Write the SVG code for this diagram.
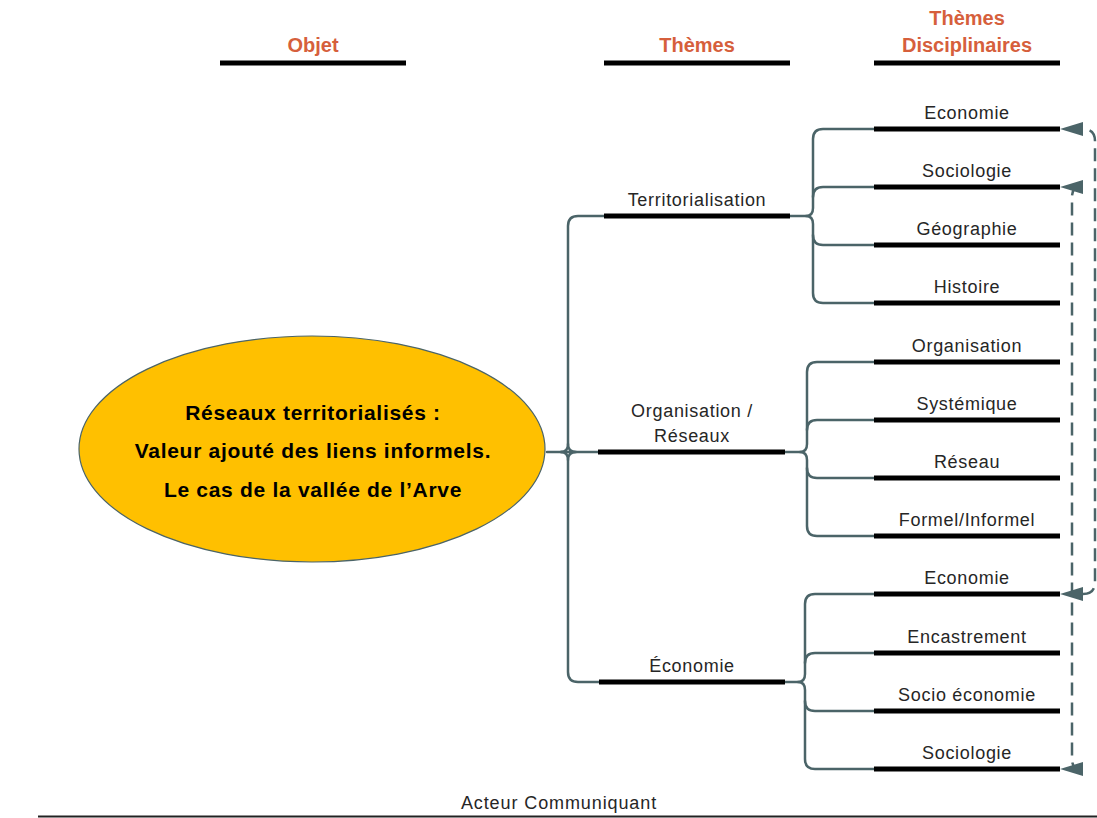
<svg xmlns="http://www.w3.org/2000/svg" width="1097" height="818" viewBox="0 0 1097 818">
<style>
.hdr{font-family:"Liberation Sans",Arial,sans-serif;font-weight:bold;font-size:20px;fill:#D65F3C;text-anchor:middle}
.lbl{font-family:"Liberation Sans",Arial,sans-serif;font-size:18px;letter-spacing:0.7px;fill:#262626;text-anchor:middle}
.ell{font-family:"Liberation Sans",Arial,sans-serif;font-weight:bold;font-size:21px;letter-spacing:0.7px;fill:#000;text-anchor:middle}
.bar{stroke:#000;stroke-width:5;fill:none}
.con{stroke:#4B6468;stroke-width:2.5;fill:none;stroke-linecap:round}
.dash{stroke:#4B6468;stroke-width:2.5;fill:none;stroke-dasharray:13 7}
.ah{fill:#4B6468}
</style>
<defs>
<path id="arrowhead" d="M0,0 L23,-7 L23,7 z"/>
</defs>
<rect width="1097" height="818" fill="#fff"/>

<g id="headers">
<text class="hdr" x="313" y="52">Objet</text>
<line class="bar" x1="220" y1="63" x2="406" y2="63"/>
<text class="hdr" x="697" y="52">Thèmes</text>
<line class="bar" x1="604" y1="63" x2="790" y2="63"/>
<text class="hdr" x="967" y="25">Thèmes</text>
<text class="hdr" x="967" y="52">Disciplinaires</text>
<line class="bar" x1="874" y1="63" x2="1060" y2="63"/>
</g>

<g id="connectors">
<!-- main trunk -->
<path class="con" d="M547,452 L598,452"/>
<path class="con" d="M561,452 Q568,452 568,444 L568,226 Q568,216 578,216 L604,216"/>
<path class="con" d="M561,452 Q568,452 568,460 L568,672 Q568,682 578,682 L599,682"/>
<path class="con" d="M568,444 Q568,452 576,452 M568,460 Q568,452 576,452"/>
<!-- Territorialisation group -->
<path class="con" d="M790,216 L806,216 Q813,216 813,208 L813,139 Q813,129 823,129 L874,129"/>
<path class="con" d="M806,216 Q813,216 813,224 L813,293 Q813,303 823,303 L874,303"/>
<path class="con" d="M813,197 Q813,187 823,187 L874,187"/>
<path class="con" d="M813,235 Q813,245 823,245 L874,245"/>
<!-- Organisation group -->
<path class="con" d="M785,452 L800,452 Q807,452 807,444 L807,372 Q807,362 817,362 L874,362"/>
<path class="con" d="M800,452 Q807,452 807,460 L807,526 Q807,536 817,536 L874,536"/>
<path class="con" d="M807,430 Q807,420 817,420 L874,420"/>
<path class="con" d="M807,468 Q807,478 817,478 L874,478"/>
<!-- Economie group -->
<path class="con" d="M785,682 L798,682 Q805,682 805,674 L805,604 Q805,594 815,594 L874,594"/>
<path class="con" d="M798,682 Q805,682 805,690 L805,759 Q805,769 815,769 L874,769"/>
<path class="con" d="M805,663 Q805,653 815,653 L874,653"/>
<path class="con" d="M805,701 Q805,711 815,711 L874,711"/>
<!-- dashed links: Economie <-> Economie, Sociologie <-> Sociologie -->
<path class="dash" d="M1083,594 Q1095,594 1095,582 L1095,141 Q1095,129 1083,129"/>
<path class="dash" d="M1080,187 Q1072,187 1072,197 L1072,759 Q1072,769 1080,769"/>
<use href="#arrowhead" class="ah" x="1060" y="129"/>
<use href="#arrowhead" class="ah" x="1060" y="594"/>
<use href="#arrowhead" class="ah" x="1060" y="187"/>
<use href="#arrowhead" class="ah" x="1060" y="769"/>
</g>

<g id="objet">
<ellipse cx="312" cy="449" rx="233" ry="113" fill="#FFC000" stroke="#4B6468" stroke-width="1.2"/>
<text class="ell" x="313" y="420">Réseaux territorialisés :</text>
<text class="ell" x="313" y="458">Valeur ajouté des liens informels.</text>
<text class="ell" x="313" y="497">Le cas de la vallée de l’Arve</text>
</g>

<g id="theme-territorialisation">
<text class="lbl" x="697" y="206">Territorialisation</text>
<line class="bar" x1="604" y1="216" x2="790" y2="216"/>
</g>
<g id="theme-organisation">
<text class="lbl" x="692" y="417">Organisation /</text>
<text class="lbl" x="692" y="442">Réseaux</text>
<line class="bar" x1="598" y1="452" x2="785" y2="452"/>
</g>
<g id="theme-economie">
<text class="lbl" x="692" y="672">Économie</text>
<line class="bar" x1="599" y1="682" x2="785" y2="682"/>
</g>

<g id="d-economie-1"><text class="lbl" x="967" y="119">Economie</text><line class="bar" x1="874" y1="129" x2="1060" y2="129"/></g>
<g id="d-sociologie-1"><text class="lbl" x="967" y="177">Sociologie</text><line class="bar" x1="874" y1="187" x2="1060" y2="187"/></g>
<g id="d-geographie"><text class="lbl" x="967" y="235">Géographie</text><line class="bar" x1="874" y1="245" x2="1060" y2="245"/></g>
<g id="d-histoire"><text class="lbl" x="967" y="293">Histoire</text><line class="bar" x1="874" y1="303" x2="1060" y2="303"/></g>

<g id="d-organisation"><text class="lbl" x="967" y="352">Organisation</text><line class="bar" x1="874" y1="362" x2="1060" y2="362"/></g>
<g id="d-systemique"><text class="lbl" x="967" y="410">Systémique</text><line class="bar" x1="874" y1="420" x2="1060" y2="420"/></g>
<g id="d-reseau"><text class="lbl" x="967" y="468">Réseau</text><line class="bar" x1="874" y1="478" x2="1060" y2="478"/></g>
<g id="d-formel"><text class="lbl" x="967" y="526">Formel/Informel</text><line class="bar" x1="874" y1="536" x2="1060" y2="536"/></g>

<g id="d-economie-2"><text class="lbl" x="967" y="584">Economie</text><line class="bar" x1="874" y1="594" x2="1060" y2="594"/></g>
<g id="d-encastrement"><text class="lbl" x="967" y="643">Encastrement</text><line class="bar" x1="874" y1="653" x2="1060" y2="653"/></g>
<g id="d-socio-economie"><text class="lbl" x="967" y="701">Socio économie</text><line class="bar" x1="874" y1="711" x2="1060" y2="711"/></g>
<g id="d-sociologie-2"><text class="lbl" x="967" y="759">Sociologie</text><line class="bar" x1="874" y1="769" x2="1060" y2="769"/></g>

<g id="acteur">
<text class="lbl" x="559" y="809" style="letter-spacing:0.9px">Acteur Communiquant</text>
<line x1="38" y1="816.5" x2="1097" y2="816.5" stroke="#222" stroke-width="2"/>
</g>
</svg>
